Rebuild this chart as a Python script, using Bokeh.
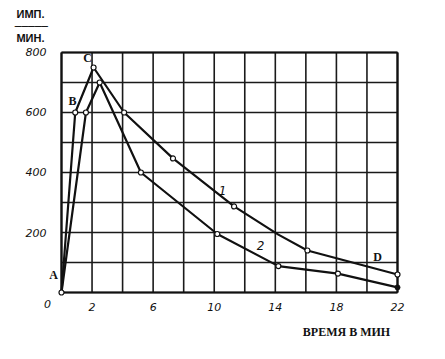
from bokeh.plotting import figure
from bokeh.models import Range1d, FixedTicker, Label
from bokeh.embed import file_html
from bokeh.resources import INLINE

# curve 1 (upper)
t1 = [0, 0.9, 2.1, 4.1, 7.3, 11.3, 14.2, 16.1, 22]
v1 = [0, 600, 750, 600, 447, 287, 193, 140, 60]
m1_t = [0, 0.9, 2.1, 4.1, 7.3, 11.3, 16.1, 22]
m1_v = [0, 600, 750, 600, 447, 287, 140, 60]
# curve 2 (lower)
t2 = [0, 1.6, 2.5, 5.2, 10.2, 14.2, 18.1, 22]
v2 = [0, 600, 700, 400, 195, 88, 63, 17]
m2_t = [1.6, 2.5, 5.2, 10.2, 14.2, 18.1]
m2_v = [600, 700, 400, 195, 88, 63]
end2_t = [22]
end2_v = [17]

x_ticks = [2, 6, 10, 14, 18, 22]
y_ticks = [200, 400, 600, 800]
x_grid = list(range(0, 23, 2))
y_grid = list(range(0, 801, 100))

p = figure(width=445, height=359, output_backend="svg", toolbar_location=None,
           x_range=Range1d(-3.994, 25.143), y_range=Range1d(-223.3, 973.3),
           min_border=0)
p.background_fill_color = "white"
p.border_fill_color = "white"
p.outline_line_color = None
p.grid.visible = False

# grid of the chart box (every 2 min, every 100 imp/min)
xs0, xs1 = x_grid[0], x_grid[-1]
ys0, ys1 = y_grid[0], y_grid[-1]
p.segment(x0=x_grid, y0=[ys0] * len(x_grid), x1=x_grid, y1=[ys1] * len(x_grid),
          line_color="#1a1a1a", line_width=1.6)
p.segment(x0=[xs0] * len(y_grid), y0=y_grid, x1=[xs1] * len(y_grid), y1=y_grid,
          line_color="#1a1a1a", line_width=1.6)
p.segment(x0=[xs0, xs1, xs0, xs0], y0=[ys0, ys0, ys0, ys1],
          x1=[xs1, xs1, xs0, xs1], y1=[ys0, ys1, ys1, ys1],
          line_color="#111111", line_width=2.2)

for ax in (p.xaxis, p.yaxis):
    ax.fixed_location = 0
    ax.axis_line_color = None
    ax.major_tick_line_color = None
    ax.minor_tick_line_color = None
    ax.major_label_text_font = "DejaVu Sans"
    ax.major_label_text_font_style = "italic"
    ax.major_label_text_font_size = "11px"
    ax.major_label_text_color = "#111111"
p.xaxis.ticker = FixedTicker(ticks=x_ticks)
p.yaxis.ticker = FixedTicker(ticks=y_ticks)
p.xaxis.major_label_standoff = 4
p.yaxis.major_label_standoff = 9

p.line(t1, v1, line_color="#111111", line_width=2.2)
p.line(t2, v2, line_color="#111111", line_width=2.2)
p.scatter(m1_t, m1_v, size=5, marker="circle", fill_color="white", line_color="#111111", line_width=1.2)
p.scatter(m2_t, m2_v, size=5, marker="circle", fill_color="white", line_color="#111111", line_width=1.2)
p.scatter(end2_t, end2_v, size=5, marker="circle", fill_color="#111111", line_color="#111111")

def lab(x, y, text, size="12px", font="Liberation Serif", style="bold", align="center"):
    p.add_layout(Label(x=x, y=y, text=text, text_font=font, text_font_style=style,
                       text_font_size=size, text_align=align, text_baseline="middle",
                       text_color="#111111"))

lab(-0.52, 57, "A")
lab(0.72, 637, "B")
lab(1.70, 783, "C")
lab(20.7, 117, "D")
lab(10.55, 340, "1", font="DejaVu Sans", style="italic")
lab(13.03, 157, "2", font="DejaVu Sans", style="italic")
lab(-0.92, -37, "0", size="11px", font="DejaVu Sans", style="italic")
lab(-2.03, 927, "ИМП.", size="11px", font="Liberation Sans")
lab(-1.97, 887, "─────", size="11px", font="DejaVu Sans", style="normal")
lab(-2.03, 847, "МИН.", size="11px", font="Liberation Sans")
lab(18.66, -133, "ВРЕМЯ В МИН", size="12px", font="Liberation Serif")

open("out.html", "w").write(file_html(p, INLINE))
